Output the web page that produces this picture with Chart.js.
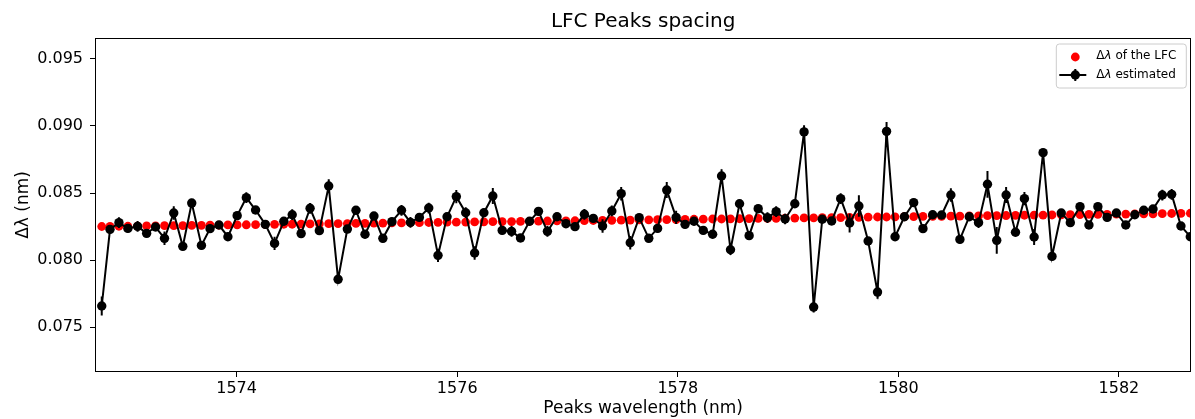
<!DOCTYPE html>
<html>
<head>
<meta charset="utf-8">
<script src="https://cdn.jsdelivr.net/npm/chart.js@4/dist/chart.umd.min.js"></script>
<style>
html,body{margin:0;padding:0;background:#ffffff;}
#wrap{width:1195px;height:419px;}
</style>
</head>
<body>
<div id="wrap"><canvas id="c" width="1195" height="419"></canvas></div>
<script>
// ---------------- data ----------------
const wavelengths = [
  1572.777,1572.852,1572.933,1573.014,1573.102,1573.184,1573.265,1573.346,1573.430,1573.512,
  1573.593,1573.681,1573.759,1573.840,1573.921,1574.005,1574.088,1574.172,1574.260,1574.344,
  1574.428,1574.504,1574.585,1574.666,1574.750,1574.835,1574.920,1575.004,1575.082,1575.164,
  1575.245,1575.326,1575.408,1575.495,1575.576,1575.657,1575.742,1575.826,1575.908,1575.992,
  1576.077,1576.158,1576.242,1576.323,1576.408,1576.493,1576.574,1576.656,1576.737,1576.818,
  1576.905,1576.986,1577.068,1577.153,1577.234,1577.318,1577.402,1577.487,1577.569,1577.650,
  1577.737,1577.817,1577.900,1577.985,1578.066,1578.147,1578.231,1578.316,1578.397,1578.478,
  1578.560,1578.647,1578.729,1578.813,1578.892,1578.973,1579.061,1579.145,1579.232,1579.310,
  1579.395,1579.477,1579.558,1579.642,1579.726,1579.811,1579.893,1579.970,1580.055,1580.139,
  1580.223,1580.311,1580.392,1580.476,1580.558,1580.643,1580.727,1580.808,1580.892,1580.977,
  1581.062,1581.143,1581.231,1581.312,1581.393,1581.477,1581.559,1581.647,1581.728,1581.809,
  1581.893,1581.977,1582.062,1582.144,1582.225,1582.309,1582.393,1582.478,1582.562,1582.647
];
const lfcSpacing = [
  0.08250,0.08251,0.08252,0.08252,0.08253,0.08254,0.08255,0.08256,0.08257,0.08257,
  0.08258,0.08259,0.08260,0.08261,0.08262,0.08262,0.08263,0.08264,0.08265,0.08266,
  0.08267,0.08267,0.08268,0.08269,0.08270,0.08271,0.08272,0.08272,0.08273,0.08274,
  0.08275,0.08276,0.08277,0.08277,0.08278,0.08279,0.08280,0.08281,0.08282,0.08282,
  0.08283,0.08284,0.08285,0.08286,0.08287,0.08287,0.08288,0.08289,0.08290,0.08291,
  0.08292,0.08292,0.08293,0.08294,0.08295,0.08296,0.08296,0.08297,0.08298,0.08299,
  0.08300,0.08301,0.08301,0.08302,0.08303,0.08304,0.08305,0.08306,0.08306,0.08307,
  0.08308,0.08309,0.08310,0.08311,0.08311,0.08312,0.08313,0.08314,0.08315,0.08316,
  0.08316,0.08317,0.08318,0.08319,0.08320,0.08321,0.08321,0.08322,0.08323,0.08324,
  0.08325,0.08326,0.08326,0.08327,0.08328,0.08329,0.08330,0.08331,0.08331,0.08332,
  0.08333,0.08334,0.08335,0.08335,0.08336,0.08337,0.08338,0.08339,0.08340,0.08340,
  0.08341,0.08342,0.08343,0.08344,0.08345,0.08345,0.08346,0.08347,0.08348,0.08349
];
const estSpacing = [
  0.07657,0.08229,0.08279,0.08236,0.08251,0.08199,0.08246,0.08162,0.08351,0.08102,
  0.08425,0.08109,0.08234,0.08261,0.08174,0.08331,0.08465,0.08373,0.08266,0.08124,
  0.08289,0.08338,0.08197,0.08386,0.08219,0.08552,0.07856,0.08231,0.08371,0.08192,
  0.08328,0.08162,0.08286,0.08371,0.08281,0.08318,0.08388,0.08035,0.08323,0.08473,
  0.08353,0.08052,0.08353,0.08478,0.08221,0.08214,0.08164,0.08289,0.08363,0.08214,
  0.08323,0.08271,0.08249,0.08341,0.08311,0.08254,0.08366,0.08495,0.08129,0.08316,
  0.08162,0.08236,0.08522,0.08318,0.08266,0.08289,0.08221,0.08192,0.08627,0.08077,
  0.08420,0.08182,0.08383,0.08316,0.08361,0.08306,0.08420,0.08956,0.07649,0.08304,
  0.08291,0.08458,0.08276,0.08403,0.08142,0.07761,0.08960,0.08174,0.08323,0.08428,
  0.08234,0.08338,0.08336,0.08485,0.08154,0.08323,0.08279,0.08565,0.08147,0.08485,
  0.08207,0.08458,0.08172,0.08801,0.08027,0.08351,0.08279,0.08398,0.08261,0.08398,
  0.08318,0.08351,0.08261,0.08338,0.08371,0.08381,0.08485,0.08490,0.08254,0.08174
];
const estError = [
  0.0007,0.0003,0.0004,0.0003,0.0004,0.0003,0.0003,0.0005,0.0005,0.0003,
  0.0003,0.0003,0.0003,0.0003,0.0003,0.0003,0.0004,0.0003,0.0003,0.0005,
  0.0003,0.0004,0.0003,0.0004,0.0003,0.0005,0.0003,0.0003,0.0003,0.0003,
  0.0003,0.0003,0.0003,0.0004,0.0004,0.0003,0.0004,0.0005,0.0003,0.0005,
  0.0004,0.0005,0.0003,0.0006,0.0003,0.0004,0.0003,0.0003,0.0003,0.0004,
  0.0003,0.0003,0.0003,0.0004,0.0003,0.0005,0.0004,0.0005,0.0005,0.0003,
  0.0003,0.0003,0.0006,0.0005,0.0003,0.0003,0.0003,0.0003,0.0005,0.0004,
  0.0003,0.0003,0.0003,0.0004,0.0004,0.0004,0.0003,0.0005,0.0004,0.0003,
  0.0003,0.0004,0.0007,0.0008,0.0003,0.0005,0.0007,0.0003,0.0003,0.0003,
  0.0003,0.0003,0.0003,0.0005,0.0003,0.0003,0.0004,0.0010,0.0010,0.0006,
  0.0003,0.0005,0.0006,0.0003,0.0003,0.0003,0.0003,0.0003,0.0003,0.0003,
  0.0003,0.0003,0.0003,0.0003,0.0003,0.0003,0.0004,0.0004,0.0003,0.0003
];
const xTicks = [1574, 1576, 1578, 1580, 1582];
const yTicks = [0.075, 0.080, 0.085, 0.090, 0.095];
const titleText = 'LFC Peaks spacing';
const xLabel = 'Peaks wavelength (nm)';
const yLabel = 'Δλ (nm)';
const legendLabels = ['Δλ of the LFC', 'Δλ estimated'];

// ---------------- chart ----------------
const FONT = "'DejaVu Sans', sans-serif";
Chart.defaults.font.family = FONT;
Chart.defaults.color = '#000000';

const estPoints = wavelengths.map((w, i) => ({x: w, y: estSpacing[i]}));
const lfcPoints = wavelengths.map((w, i) => ({x: w, y: lfcSpacing[i]}));

const errorBars = {
  id: 'errorBars',
  beforeDatasetDraw(chart, args) {
    if (args.index !== 0) return;
    const {ctx, chartArea: a} = chart;
    const xs = chart.scales.x, ys = chart.scales.y;
    ctx.save();
    ctx.beginPath();
    ctx.rect(a.left, a.top, a.right - a.left, a.bottom - a.top);
    ctx.clip();
    ctx.strokeStyle = '#000000';
    ctx.lineWidth = 2;
    ctx.beginPath();
    wavelengths.forEach((w, i) => {
      const px = xs.getPixelForValue(w);
      ctx.moveTo(px, ys.getPixelForValue(estSpacing[i] - estError[i]));
      ctx.lineTo(px, ys.getPixelForValue(estSpacing[i] + estError[i]));
    });
    ctx.stroke();
    ctx.restore();
  }
};

function drawMath(ctx, label, x, y, size) {
  // "Δλ ..." : Δ upright, λ italic (mathtext style), rest upright
  const parts = [
    {t: label.slice(0, 1), f: size + 'px ' + FONT},
    {t: label.slice(1, 2), f: 'italic ' + size + 'px ' + FONT},
    {t: label.slice(2), f: size + 'px ' + FONT}
  ];
  let cx = x;
  parts.forEach(p => {
    ctx.font = p.f;
    ctx.fillText(p.t, cx, y);
    cx += ctx.measureText(p.t).width;
  });
}

const frameAndLegend = {
  id: 'frameAndLegend',
  afterDraw(chart) {
    const {ctx, chartArea: a} = chart;
    ctx.save();
    // axes frame
    ctx.strokeStyle = '#000000';
    ctx.lineWidth = 1;
    ctx.strokeRect(Math.round(a.left) - 0.5, Math.round(a.top) - 0.5,
                   Math.round(a.right - a.left) + 1, Math.round(a.bottom - a.top) + 1);
    // legend box
    const bx = a.right - 134, by = a.top + 5, bw = 130, bh = 44, r = 3;
    ctx.beginPath();
    ctx.moveTo(bx + r, by);
    ctx.lineTo(bx + bw - r, by);
    ctx.quadraticCurveTo(bx + bw, by, bx + bw, by + r);
    ctx.lineTo(bx + bw, by + bh - r);
    ctx.quadraticCurveTo(bx + bw, by + bh, bx + bw - r, by + bh);
    ctx.lineTo(bx + r, by + bh);
    ctx.quadraticCurveTo(bx, by + bh, bx, by + bh - r);
    ctx.lineTo(bx, by + r);
    ctx.quadraticCurveTo(bx, by, bx + r, by);
    ctx.closePath();
    ctx.fillStyle = 'rgba(255,255,255,0.8)';
    ctx.fill();
    ctx.strokeStyle = '#cccccc';
    ctx.stroke();
    // entry 1: red dot
    const mx = bx + 19, y1 = by + 13, y2 = by + 31;
    ctx.fillStyle = '#ff0000';
    ctx.beginPath(); ctx.arc(mx, y1, 4.4, 0, Math.PI * 2); ctx.fill();
    // entry 2: line + marker + error bar
    ctx.strokeStyle = '#000000';
    ctx.lineWidth = 2;
    ctx.beginPath();
    ctx.moveTo(bx + 3, y2); ctx.lineTo(bx + 30, y2);
    ctx.moveTo(mx, y2 - 6); ctx.lineTo(mx, y2 + 6);
    ctx.stroke();
    ctx.fillStyle = '#000000';
    ctx.beginPath(); ctx.arc(mx, y2, 4.7, 0, Math.PI * 2); ctx.fill();
    // texts
    ctx.fillStyle = '#000000';
    ctx.textBaseline = 'middle';
    ctx.textAlign = 'left';
    drawMath(ctx, legendLabels[0], bx + 40, y1 - 1, 12);
    drawMath(ctx, legendLabels[1], bx + 40, y2 - 0.5, 12);
    ctx.restore();
  }
};

new Chart(document.getElementById('c'), {
  type: 'line',
  data: {
    datasets: [
      {
        label: legendLabels[1],
        data: estPoints,
        borderColor: '#000000',
        borderWidth: 2,
        backgroundColor: '#000000',
        pointRadius: 4.7,
        pointBackgroundColor: '#000000',
        pointBorderWidth: 0,
        showLine: true,
        tension: 0,
        clip: 0,
        order: 0
      },
      {
        label: legendLabels[0],
        data: lfcPoints,
        showLine: false,
        borderColor: '#ff0000',
        backgroundColor: '#ff0000',
        pointRadius: 4.4,
        pointBackgroundColor: '#ff0000',
        pointBorderWidth: 0,
        clip: 0,
        order: 1
      }
    ]
  },
  options: {
    responsive: false,
    animation: false,
    devicePixelRatio: 1,
    layout: {padding: {left: 0, right: 2, top: 0, bottom: 0}},
    plugins: {
      legend: {display: false},
      tooltip: {enabled: false},
      title: {
        display: true,
        text: titleText,
        fullSize: false,
        color: '#000000',
        font: {size: 20, weight: 'normal', family: FONT},
        padding: {top: 10, bottom: 5}
      }
    },
    scales: {
      x: {
        type: 'linear',
        min: 1572.725,
        max: 1582.647,
        afterBuildTicks: s => { s.ticks = xTicks.map(v => ({value: v})); },
        afterFit: s => { s.height = 48; },
        ticks: {
          font: {size: 16},
          color: '#000000',
          padding: 2,
          maxRotation: 0,
          autoSkip: false,
          callback: v => String(v)
        },
        grid: {drawOnChartArea: false, drawTicks: true, tickLength: 6, color: '#000000', tickWidth: 1},
        border: {display: false},
        title: {display: true, text: xLabel, color: '#000000', font: {size: 17}, padding: {top: 0, bottom: 0}}
      },
      y: {
        type: 'linear',
        min: 0.07172,
        max: 0.09649,
        afterBuildTicks: s => { s.ticks = yTicks.map(v => ({value: v})); },
        afterFit: s => { s.width = 96; },
        ticks: {
          font: {size: 16},
          color: '#000000',
          padding: 7,
          autoSkip: false,
          callback: v => v.toFixed(3)
        },
        grid: {drawOnChartArea: false, drawTicks: true, tickLength: 6, color: '#000000', tickWidth: 1},
        border: {display: false},
        title: {display: true, text: yLabel, color: '#000000', font: {size: 17}, padding: {top: 13, bottom: 0}}
      }
    }
  },
  plugins: [errorBars, frameAndLegend]
});
</script>
</body>
</html>
